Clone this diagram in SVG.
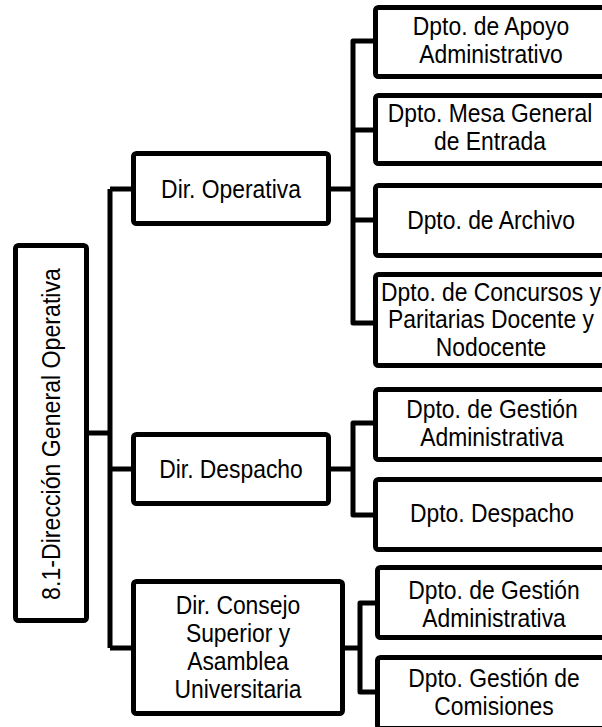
<svg xmlns="http://www.w3.org/2000/svg" width="602" height="727" viewBox="0 0 602 727">
<style>
.box{fill:#fff;stroke:#000;stroke-width:5;rx:3;ry:3}
.ln{fill:none;stroke:#000;stroke-width:5;stroke-linejoin:round}
text{font-family:"Liberation Sans",Arial,sans-serif;font-size:26px;fill:#000;text-anchor:middle}
</style>
<rect width="602" height="727" fill="#fff"/>
<g id="connectors">
<path class="ln" d="M89,433 H110 M110,189 V648 M110,189 H131 M110,469 H131 M110,648 H131"/>
<path class="ln" d="M331,189 H353 M373,41 H353 V323 H373 M353,130 H373 M353,220 H373"/>
<path class="ln" d="M331,469 H353 M373,423 H353 V515 H373"/>
<path class="ln" d="M345,648 H360 M375,603 H360 V692 H375"/>
</g>
<g id="n-main">
<rect class="box" x="15.5" y="245.5" width="71" height="375"/>
<text transform="translate(60,434) rotate(-90) scale(0.89,1)">8.1-Dirección General Operativa</text>
</g>
<g id="n-dir-operativa">
<rect class="box" x="133.5" y="153.5" width="195" height="70"/>
<text transform="translate(231,198) scale(0.88,1)">Dir. Operativa</text>
</g>
<g id="n-dir-despacho">
<rect class="box" x="133.5" y="434.5" width="195" height="69"/>
<text transform="translate(231,478) scale(0.88,1)">Dir. Despacho</text>
</g>
<g id="n-dir-consejo">
<rect class="box" x="133.5" y="581.5" width="209" height="132"/>
<text transform="translate(238,614) scale(0.88,1)">Dir. Consejo</text>
<text transform="translate(238,642) scale(0.88,1)">Superior y</text>
<text transform="translate(238,670) scale(0.88,1)">Asamblea</text>
<text transform="translate(238,698) scale(0.88,1)">Universitaria</text>
</g>
<g id="n-apoyo">
<rect class="box" x="375.5" y="7.5" width="260" height="69"/>
<text transform="translate(491,35) scale(0.88,1)">Dpto. de Apoyo</text>
<text transform="translate(491,63) scale(0.88,1)">Administrativo</text>
</g>
<g id="n-mesa">
<rect class="box" x="375.5" y="95.5" width="260" height="68"/>
<text transform="translate(490,122) scale(0.88,1)">Dpto. Mesa General</text>
<text transform="translate(490,150) scale(0.88,1)">de Entrada</text>
</g>
<g id="n-archivo">
<rect class="box" x="375.5" y="185.5" width="260" height="70"/>
<text transform="translate(491,229) scale(0.88,1)">Dpto. de Archivo</text>
</g>
<g id="n-concursos">
<rect class="box" x="375.5" y="274.5" width="260" height="91"/>
<text transform="translate(491,301) scale(0.88,1)">Dpto. de Concursos y</text>
<text transform="translate(491,328) scale(0.88,1)">Paritarias Docente y</text>
<text transform="translate(491,356) scale(0.88,1)">Nodocente</text>
</g>
<g id="n-gestion-adm-1">
<rect class="box" x="375.5" y="389.5" width="260" height="70"/>
<text transform="translate(492,418) scale(0.88,1)">Dpto. de Gestión</text>
<text transform="translate(492,446) scale(0.88,1)">Administrativa</text>
</g>
<g id="n-despacho">
<rect class="box" x="375.5" y="479.5" width="260" height="70"/>
<text transform="translate(492,522) scale(0.88,1)">Dpto. Despacho</text>
</g>
<g id="n-gestion-adm-2">
<rect class="box" x="377.5" y="567.5" width="260" height="70"/>
<text transform="translate(494,599) scale(0.88,1)">Dpto. de Gestión</text>
<text transform="translate(494,627) scale(0.88,1)">Administrativa</text>
</g>
<g id="n-comisiones">
<rect class="box" x="377.5" y="657.5" width="260" height="71"/>
<text transform="translate(494,687) scale(0.88,1)">Dpto. Gestión de</text>
<text transform="translate(494,715) scale(0.88,1)">Comisiones</text>
</g>
</svg>
